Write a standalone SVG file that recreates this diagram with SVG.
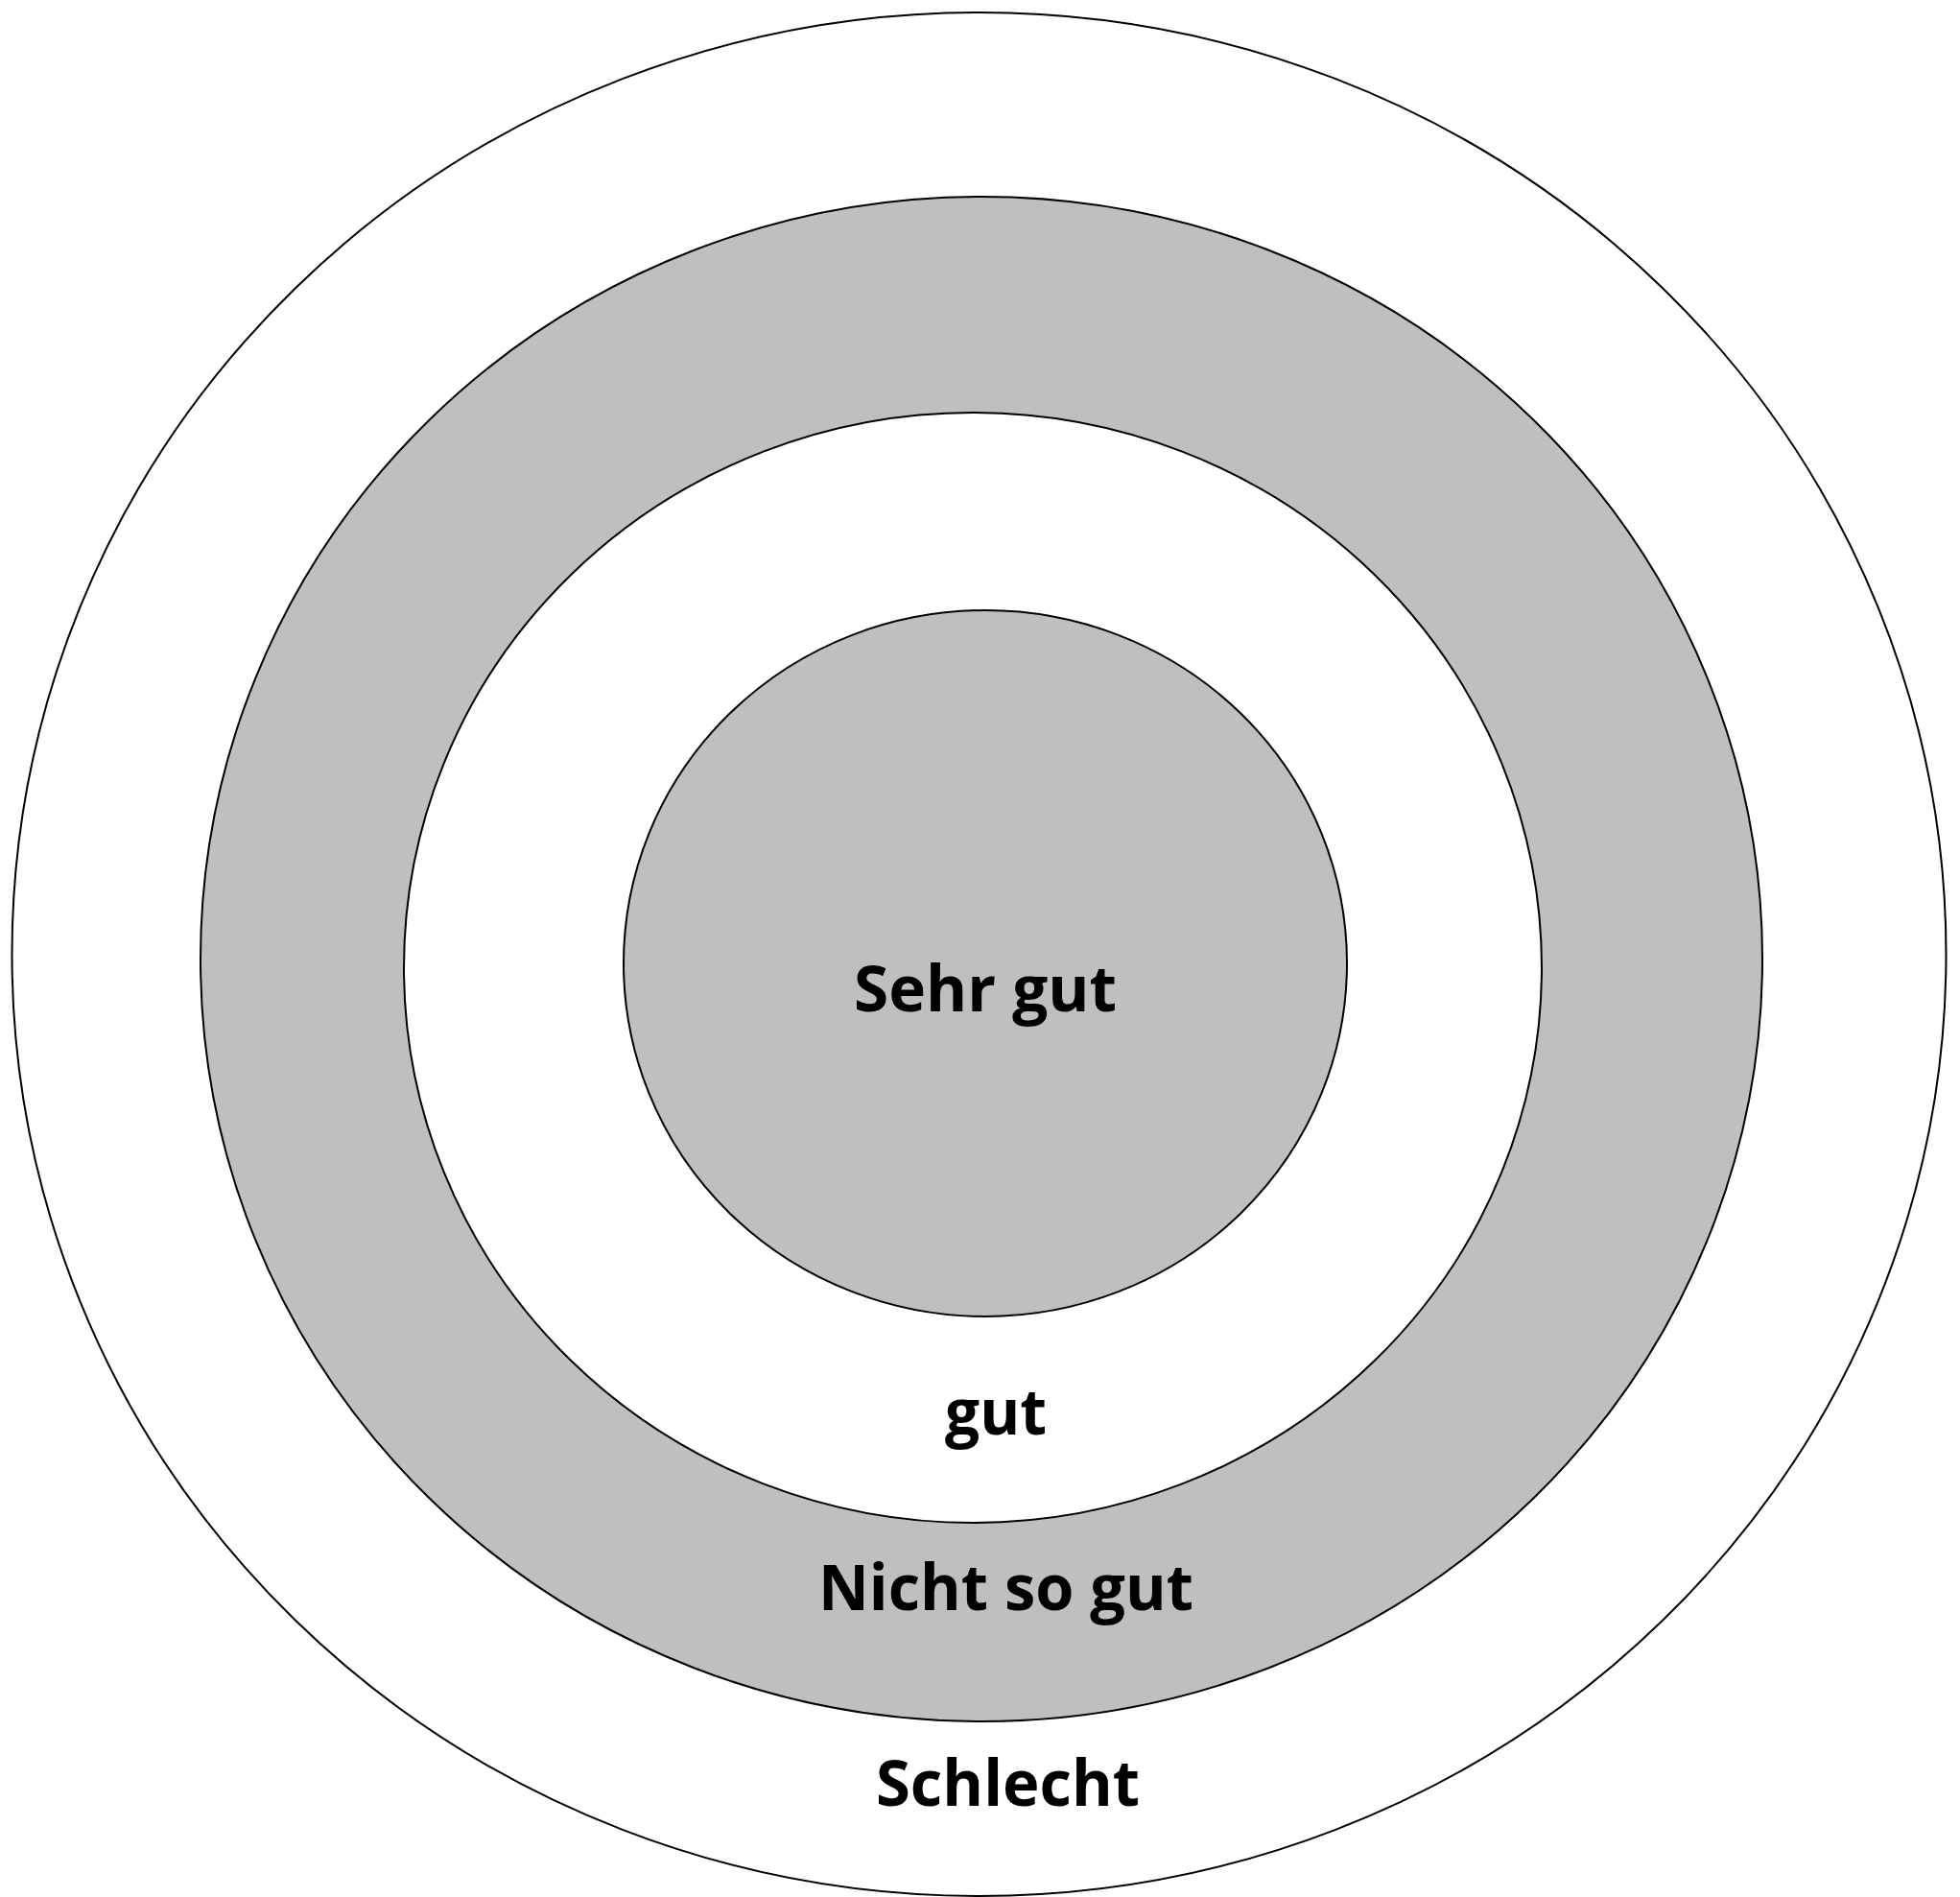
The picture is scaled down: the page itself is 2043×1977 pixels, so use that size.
<svg xmlns="http://www.w3.org/2000/svg" width="2043" height="1977" viewBox="0 0 2043 1977">
<style>
.ring{stroke:#000;stroke-width:2}
.w{fill:#fff}
.g{fill:#BFBFBF}
.lbl{font-family:"Open Sans","Liberation Sans",sans-serif;font-weight:bold;font-size:67px;fill:#000;text-anchor:middle}
</style>
<rect width="2043" height="1977" fill="#fff"/>
<g id="schlecht">
<ellipse class="ring w" cx="1020.5" cy="994.5" rx="1008" ry="981.5"/>
</g>
<g id="nicht-so-gut">
<ellipse class="ring g" cx="1023" cy="999.5" rx="814" ry="794.5"/>
</g>
<g id="gut">
<ellipse class="ring w" cx="1014" cy="1008.5" rx="593" ry="578.5"/>
</g>
<g id="sehr-gut">
<ellipse class="ring g" cx="1027" cy="1004" rx="377" ry="368"/>
</g>
<g id="labels">
<text class="lbl" x="1027" y="1054" textLength="274" lengthAdjust="spacingAndGlyphs">Sehr gut</text>
<text class="lbl" x="1038" y="1495" textLength="106" lengthAdjust="spacingAndGlyphs">gut</text>
<text class="lbl" x="1048.5" y="1678" textLength="391" lengthAdjust="spacingAndGlyphs">Nicht so gut</text>
<text class="lbl" x="1050.5" y="1882" textLength="275" lengthAdjust="spacingAndGlyphs">Schlecht</text>
</g>
<g id="connectors"/>
</svg>
